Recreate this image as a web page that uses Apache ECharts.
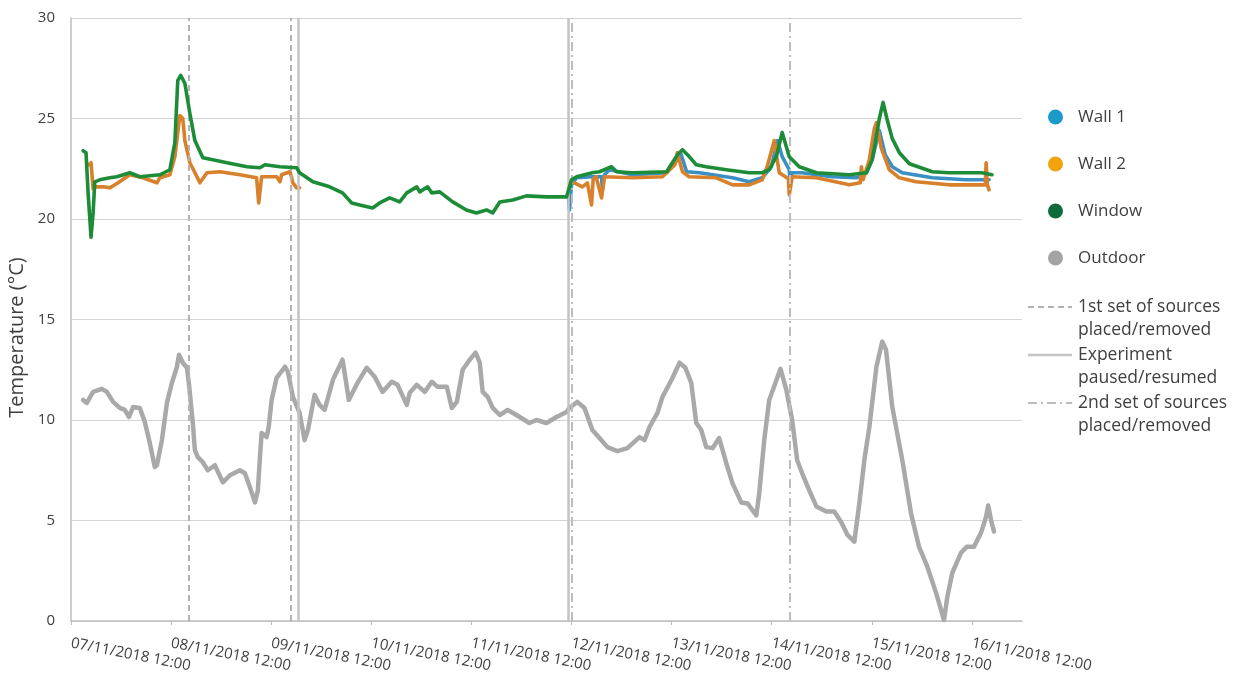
<!DOCTYPE html>
<html>
<head>
<meta charset="utf-8">
<title>Temperature</title>
<script src="https://cdn.jsdelivr.net/npm/echarts@6/dist/echarts.min.js"></script>
<style>
  html, body { margin: 0; padding: 0; background: #ffffff; }
  #chart { width: 1239px; height: 680px; }
</style>
</head>
<body>
<div id="chart"></div>
<script>
// Time axis: hours elapsed since 07/11/2018 12:00
const startDay = 7;
const tickHours = [0, 24, 48, 72, 96, 120, 144, 168, 192, 216];
const yTicks = [0, 5, 10, 15, 20, 25, 30];

// Event markers (hours)
const sourceSet1Hours = [28.3, 52.7];
const pauseHours = [54.4, 119.3];
const sourceSet2Hours = [120.0, 172.4];

// [hours, °C]
const wall1 = [
  [119.3, 21.0], [119.5, 20.45], [120.0, 21.7], [121.2, 22.05], [125.0, 22.1], [127.2, 22.1],
  [127.4, 21.45], [127.9, 22.2], [129.1, 22.45], [134.6, 22.2], [142.8, 22.3], [145.4, 22.95],
  [146.3, 23.2], [147.6, 22.35], [150.7, 22.3], [158.6, 22.05], [162.6, 21.85], [165.7, 22.05],
  [167.9, 22.6], [169.4, 23.9], [170.5, 23.1], [172.2, 22.45], [172.4, 21.8], [172.9, 22.3],
  [175.3, 22.3], [182.4, 22.1], [188.3, 22.05], [190.7, 22.3], [192.1, 23.0], [193.8, 24.4],
  [195.2, 23.2], [196.9, 22.6], [199.3, 22.3], [206.5, 22.05], [214.6, 21.95], [220.1, 21.95]
];

const wall2 = [
  [4.3, 22.7], [4.8, 22.8], [5.3, 21.5], [5.7, 21.6], [7.7, 21.6], [9.3, 21.55], [11.3, 21.8],
  [14.1, 22.2], [17.2, 22.05], [20.6, 21.8], [21.3, 22.05], [23.7, 22.2], [24.9, 23.1],
  [26.1, 25.15], [26.8, 25.0], [27.3, 23.9], [28.5, 22.8], [30.2, 22.1], [30.9, 21.8],
  [32.6, 22.3], [35.7, 22.35], [40.5, 22.2], [44.5, 22.05], [45.0, 20.8], [45.7, 22.1],
  [49.3, 22.1], [50.1, 21.85], [50.5, 22.2], [52.5, 22.35], [53.2, 21.8], [54.1, 21.55],
  [54.8, 21.55],
  [87.0, null],
  [120.7, 21.8], [122.6, 21.6], [123.8, 21.8], [124.8, 20.7], [125.2, 22.0], [125.9, 22.1],
  [127.2, 21.05], [127.9, 22.1], [134.6, 22.05], [141.8, 22.1], [144.8, 22.7], [145.4, 23.3],
  [146.6, 22.35], [148.2, 22.1], [154.7, 22.05], [158.6, 21.7], [162.6, 21.7], [165.7, 21.95],
  [166.9, 22.6], [168.6, 23.9], [169.8, 22.3], [172.0, 22.0], [172.2, 21.2], [172.9, 22.1],
  [178.7, 22.05], [186.6, 21.7], [189.2, 21.8], [189.5, 22.6], [189.9, 21.95], [191.4, 22.95],
  [192.6, 24.5], [193.1, 24.8], [194.3, 23.5], [196.2, 22.45], [198.6, 22.05], [202.6, 21.85],
  [210.5, 21.7], [217.0, 21.7], [219.2, 21.7], [219.4, 22.8], [219.7, 21.7], [220.1, 21.45]
];

const windowT = [
  [2.9, 23.4], [3.6, 23.3], [4.1, 21.3], [4.8, 19.1], [5.3, 20.3], [5.7, 21.85], [6.9, 21.95],
  [9.3, 22.05], [11.0, 22.1], [14.1, 22.3], [16.5, 22.1], [21.3, 22.2], [23.7, 22.45],
  [24.9, 23.8], [25.6, 26.9], [26.3, 27.15], [27.3, 26.75], [28.5, 25.25], [29.7, 23.9],
  [31.6, 23.05], [34.0, 22.95], [37.4, 22.8], [42.2, 22.6], [45.3, 22.55], [46.5, 22.7],
  [50.1, 22.6], [54.1, 22.55], [54.8, 22.3], [58.0, 21.85], [62.0, 21.6], [65.1, 21.3],
  [67.3, 20.8], [69.2, 20.7], [72.3, 20.55], [74.0, 20.8], [76.4, 21.05], [78.8, 20.85],
  [80.5, 21.3], [82.9, 21.6], [83.6, 21.35], [85.5, 21.6], [86.5, 21.3], [88.4, 21.35],
  [91.5, 20.85], [94.8, 20.45], [97.2, 20.3], [99.6, 20.45], [101.1, 20.3], [102.8, 20.85],
  [105.9, 20.95], [109.2, 21.15], [114.0, 21.1], [118.8, 21.1], [120.0, 21.95], [121.2, 22.1],
  [125.0, 22.3], [126.7, 22.35], [129.6, 22.6], [130.8, 22.35], [134.6, 22.3], [142.8, 22.35],
  [145.4, 23.2], [146.6, 23.45], [147.8, 23.2], [149.9, 22.7], [152.3, 22.6], [157.1, 22.45],
  [162.6, 22.3], [165.7, 22.3], [167.4, 22.45], [169.1, 23.1], [170.5, 24.3], [172.2, 23.1],
  [174.6, 22.6], [178.7, 22.3], [186.6, 22.2], [190.7, 22.3], [192.1, 22.95], [193.8, 25.0],
  [194.7, 25.8], [195.6, 25.0], [196.9, 24.0], [198.6, 23.3], [201.0, 22.75], [206.5, 22.35],
  [210.5, 22.3], [218.4, 22.3], [220.8, 22.2]
];

const outdoor = [
  [2.9, 11.0], [3.8, 10.85], [5.3, 11.4], [7.4, 11.55], [8.6, 11.4], [10.1, 10.9], [11.7, 10.6],
  [12.9, 10.5], [13.9, 10.15], [14.9, 10.65], [16.5, 10.6], [17.7, 9.9], [18.9, 8.85],
  [20.1, 7.65], [20.6, 7.75], [21.8, 9.0], [23.0, 10.85], [24.2, 11.85], [25.4, 12.65],
  [25.9, 13.25], [26.8, 12.85], [27.8, 12.6], [28.3, 11.75], [29.2, 9.85], [29.7, 8.5],
  [30.4, 8.15], [31.6, 7.9], [32.8, 7.5], [34.5, 7.75], [36.4, 6.9], [38.1, 7.25], [40.5, 7.5],
  [41.7, 7.35], [42.9, 6.65], [44.1, 5.9], [44.8, 6.5], [45.3, 8.15], [45.7, 9.35], [46.9, 9.15],
  [47.4, 9.65], [48.1, 11.0], [49.3, 12.1], [51.3, 12.65], [52.0, 12.4], [53.2, 11.15],
  [54.8, 10.35], [56.0, 9.0], [56.8, 9.5], [58.4, 11.25], [59.6, 10.75], [60.8, 10.5],
  [62.8, 12.0], [65.1, 13.0], [66.6, 11.0], [68.7, 11.85], [70.9, 12.6], [72.8, 12.15],
  [74.7, 11.4], [76.9, 11.9], [78.3, 11.75], [80.5, 10.75], [81.2, 11.35], [82.9, 11.75],
  [84.8, 11.4], [86.5, 11.9], [87.9, 11.65], [90.1, 11.65], [91.3, 10.6], [92.5, 10.9],
  [93.9, 12.5], [95.6, 13.0], [97.0, 13.35], [98.0, 12.85], [98.7, 11.4], [99.9, 11.15],
  [101.1, 10.6], [102.8, 10.25], [104.7, 10.5], [106.8, 10.25], [109.9, 9.85], [111.6, 10.0],
  [114.0, 9.85], [116.4, 10.15], [118.8, 10.4], [119.5, 10.6], [121.4, 10.9], [123.1, 10.6],
  [125.0, 9.5], [126.7, 9.1], [128.6, 8.65], [131.0, 8.45], [133.4, 8.6], [136.3, 9.15],
  [137.5, 9.0], [138.7, 9.65], [140.6, 10.35], [141.8, 11.15], [144.0, 12.0], [145.9, 12.85],
  [147.3, 12.6], [148.7, 11.85], [149.9, 9.85], [151.1, 9.5], [152.3, 8.65], [153.8, 8.6],
  [155.4, 9.1], [157.1, 7.85], [158.6, 6.85], [160.7, 5.9], [162.2, 5.85], [164.3, 5.25],
  [165.0, 6.35], [166.2, 9.0], [167.4, 11.0], [168.9, 11.85], [170.1, 12.55], [171.5, 11.5],
  [172.9, 10.0], [174.1, 8.0], [175.3, 7.35], [177.0, 6.5], [178.7, 5.7], [181.1, 5.45],
  [183.0, 5.45], [184.7, 4.9], [186.1, 4.3], [187.8, 3.95], [189.0, 5.85], [190.2, 8.0],
  [191.4, 9.65], [193.1, 12.65], [194.5, 13.9], [195.4, 13.5], [196.9, 10.65], [199.3, 8.0],
  [201.4, 5.35], [203.3, 3.7], [205.3, 2.7], [207.4, 1.4], [209.3, 0.05], [210.1, 1.2],
  [211.3, 2.4], [213.4, 3.4], [214.8, 3.7], [216.5, 3.7], [218.2, 4.4], [219.4, 5.2],
  [219.9, 5.75], [220.6, 5.0], [221.3, 4.45]
];

const FONT = '"Open Sans", "Noto Sans", sans-serif';
const TEXT = '#404040';

function dateLabel(h) {
  const d = startDay + Math.round(h / 24);
  return String(d).padStart(2, '0') + '/11/2018 12:00';
}

function eventLines(hours, lineStyle) {
  return hours.map(h => ({ xAxis: h, lineStyle }));
}

const dashed = { color: '#b3b3b3', width: 2, type: [6, 4] };
const solid = { color: '#c3c3c3', width: 2.5, type: 'solid' };
const dashDot = { color: '#bdbdbd', width: 2, type: [9, 4, 2, 4] };

const chart = echarts.init(document.getElementById('chart'), null, { renderer: 'canvas' });

const lineSeries = (name, data, color, width, z) => ({
  name, type: 'line', data, showSymbol: false, symbol: 'circle',
  connectNulls: false, z,
  lineStyle: { color, width, join: 'round', cap: 'round' },
  itemStyle: { color }
});

chart.setOption({
  animation: false,
  textStyle: { fontFamily: FONT },
  grid: { left: 71, right: 217, top: 18, bottom: 59, containLabel: false, outerBoundsMode: 'none' },
  xAxis: {
    type: 'value', min: 0, max: 228, interval: 24,
    axisLine: { show: true, lineStyle: { color: '#bfbfbf', width: 1.5 } },
    axisTick: { show: true, length: 4, lineStyle: { color: '#bfbfbf' }, customValues: tickHours },
    splitLine: { show: false },
    axisLabel: {
      customValues: tickHours,
      formatter: v => dateLabel(v),
      rotate: -11, margin: 22, color: TEXT, fontSize: 15, fontFamily: FONT
    }
  },
  yAxis: {
    type: 'value', min: 0, max: 30, interval: 5,
    name: 'Temperature (°C)', nameLocation: 'middle', nameGap: 44, nameRotate: 90,
    nameTextStyle: { color: TEXT, fontSize: 20, fontFamily: FONT, padding: [0, 36, 0, 0] },
    axisLine: { show: true, lineStyle: { color: '#bfbfbf', width: 1.5 } },
    axisTick: { show: false },
    splitLine: { show: true, lineStyle: { color: '#d4d4d4', width: 1.2 } },
    axisLabel: { color: TEXT, fontSize: 15, margin: 16, fontFamily: FONT,
      customValues: yTicks }
  },
  legend: {
    orient: 'vertical', left: 1043, top: 102, itemGap: 27,
    itemWidth: 15, itemHeight: 15, icon: 'circle',
    textStyle: { fontSize: 17, lineHeight: 20, color: TEXT, fontFamily: FONT, padding: [0, 0, 0, 10] },
    selectedMode: false,
    data: [
      { name: 'Wall 1', itemStyle: { color: '#1b9ac8' } },
      { name: 'Wall 2', itemStyle: { color: '#f1a20d' } },
      { name: 'Window', itemStyle: { color: '#0e6b3b' } },
      { name: 'Outdoor', itemStyle: { color: '#a3a3a3' } }
    ]
  },
  series: [
    Object.assign(lineSeries('Outdoor', outdoor, '#a9a9a9', 4.5, 2), {
      markLine: {
        silent: true, symbol: ['none', 'none'], label: { show: false },
        data: [
          ...eventLines(sourceSet1Hours, dashed),
          ...eventLines(pauseHours, solid),
          ...eventLines(sourceSet2Hours, dashDot)
        ]
      }
    }),
    lineSeries('Wall 1', wall1, '#3a8fc3', 3.6, 3),
    lineSeries('Wall 2', wall2, '#d8802b', 3.6, 4),
    lineSeries('Window', windowT, '#1d8c38', 3.6, 5)
  ],
  graphic: [
    { type: 'line', shape: { x1: 1028, y1: 307, x2: 1072, y2: 307 }, style: { stroke: '#b3b3b3', lineWidth: 2, lineDash: [6, 4] } },
    { type: 'text', left: 1078, top: 295, style: { text: '1st set of sources\nplaced/removed', fontSize: 17.5, lineHeight: 23.5, fill: TEXT, fontFamily: FONT } },
    { type: 'line', shape: { x1: 1028, y1: 355, x2: 1072, y2: 355 }, style: { stroke: '#c3c3c3', lineWidth: 2.5 } },
    { type: 'text', left: 1078, top: 343, style: { text: 'Experiment\npaused/resumed', fontSize: 17.5, lineHeight: 23.5, fill: TEXT, fontFamily: FONT } },
    { type: 'line', shape: { x1: 1028, y1: 403, x2: 1072, y2: 403 }, style: { stroke: '#bdbdbd', lineWidth: 2, lineDash: [9, 4, 2, 4] } },
    { type: 'text', left: 1078, top: 391, style: { text: '2nd set of sources\nplaced/removed', fontSize: 17.5, lineHeight: 23.5, fill: TEXT, fontFamily: FONT } }
  ]
});
</script>
</body>
</html>
